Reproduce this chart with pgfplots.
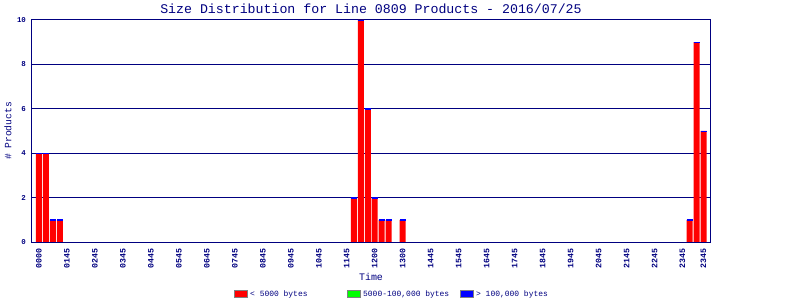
\documentclass[border=0pt]{standalone}
\usepackage{pgfplots}
\pgfplotsset{compat=1.18}
\usepackage{fontspec}
\setmainfont{Liberation Mono}
\definecolor{navy}{RGB}{0,0,128}
\begin{document}
\begin{tikzpicture}
\useasboundingbox (0,0) rectangle (800bp,300bp);
\begin{axis}[
  at={(31.5bp,58bp)}, anchor=south west,
  scale only axis, width=679bp, height=222bp,
  xmin=-1.07, xmax=96, ymin=0, ymax=10,
  axis line style={navy, line width=1bp},
  ymajorgrids, grid style={navy, line width=1bp},
  major tick length=0pt,
  ytick={0,2,4,6,8,10},
  xtick={0,4,8,12,16,20,24,28,32,36,40,44,48,52,56,60,64,68,72,76,80,84,88,92,95},
  xticklabels={0000,0145,0245,0345,0445,0545,0645,0745,0845,0945,1045,1145,1200,1300,1445,1545,1645,1745,1845,1945,2045,2145,2245,2345,2345},
  x tick label style={rotate=90, anchor=east, font=\bfseries\fontsize{8.3}{9}\selectfont, text=navy, inner sep=0pt},
  xticklabel shift=6bp,
  y tick label style={font=\bfseries\fontsize{7.5}{9}\selectfont, text=navy},
  yticklabel shift=2bp,
  /pgf/number format/assume math mode=true,
  title={Size Distribution for Line 0809 Products - 2016/07/25},
  every axis title/.style={at={(0.5,1.05)}, anchor=center, font=\fontsize{13.3}{15}\selectfont, text=navy},
  xlabel={Time},
  xlabel style={at={(0.5,-0.158)}, anchor=center, font=\fontsize{10}{12}\selectfont, text=navy},
  ylabel={\# Products},
  ylabel style={at={(-0.0346,0.5)}, anchor=center, font=\fontsize{9.7}{12}\selectfont, text=navy},
  legend style={at={(0.531,-0.234)}, anchor=center, legend columns=3, draw=none, fill=none,
    font=\fontsize{8}{9}\selectfont, text=navy, /tikz/every even column/.append style={column sep=0pt}},
]
\addplot[ybar, bar width=6bp, fill=red, draw=none, forget plot] coordinates {
(0,4) (1,4) (2,1) (3,1) (45,2) (46,10) (47,6) (48,2) (49,1) (50,1) (52,1) (93,1) (94,9) (95,5)};
\addplot[only marks, mark=-, mark size=3bp, blue, line width=1.4bp, forget plot,
  every mark/.append style={yshift=-0.3bp}] coordinates {
(0,4) (1,4) (2,1) (3,1) (45,2) (46,10) (47,6) (48,2) (49,1) (50,1) (52,1) (93,1) (94,9) (95,5)};
\addlegendimage{legend image code/.code={\draw[fill=red, draw=gray, line width=1bp] (-1bp,-3.5bp) rectangle (12bp,3.5bp);}}
\addlegendentry{\makebox[95bp][l]{< 5000 bytes}}
\addlegendimage{legend image code/.code={\draw[fill=green, draw=gray, line width=1bp] (-1bp,-3.5bp) rectangle (12bp,3.5bp);}}
\addlegendentry{\makebox[95bp][l]{5000-100,000 bytes}}
\addlegendimage{legend image code/.code={\draw[fill=blue, draw=gray, line width=1bp] (-1bp,-3.5bp) rectangle (12bp,3.5bp);}}
\addlegendentry{> 100,000 bytes}
\end{axis}
\end{tikzpicture}
\end{document}
